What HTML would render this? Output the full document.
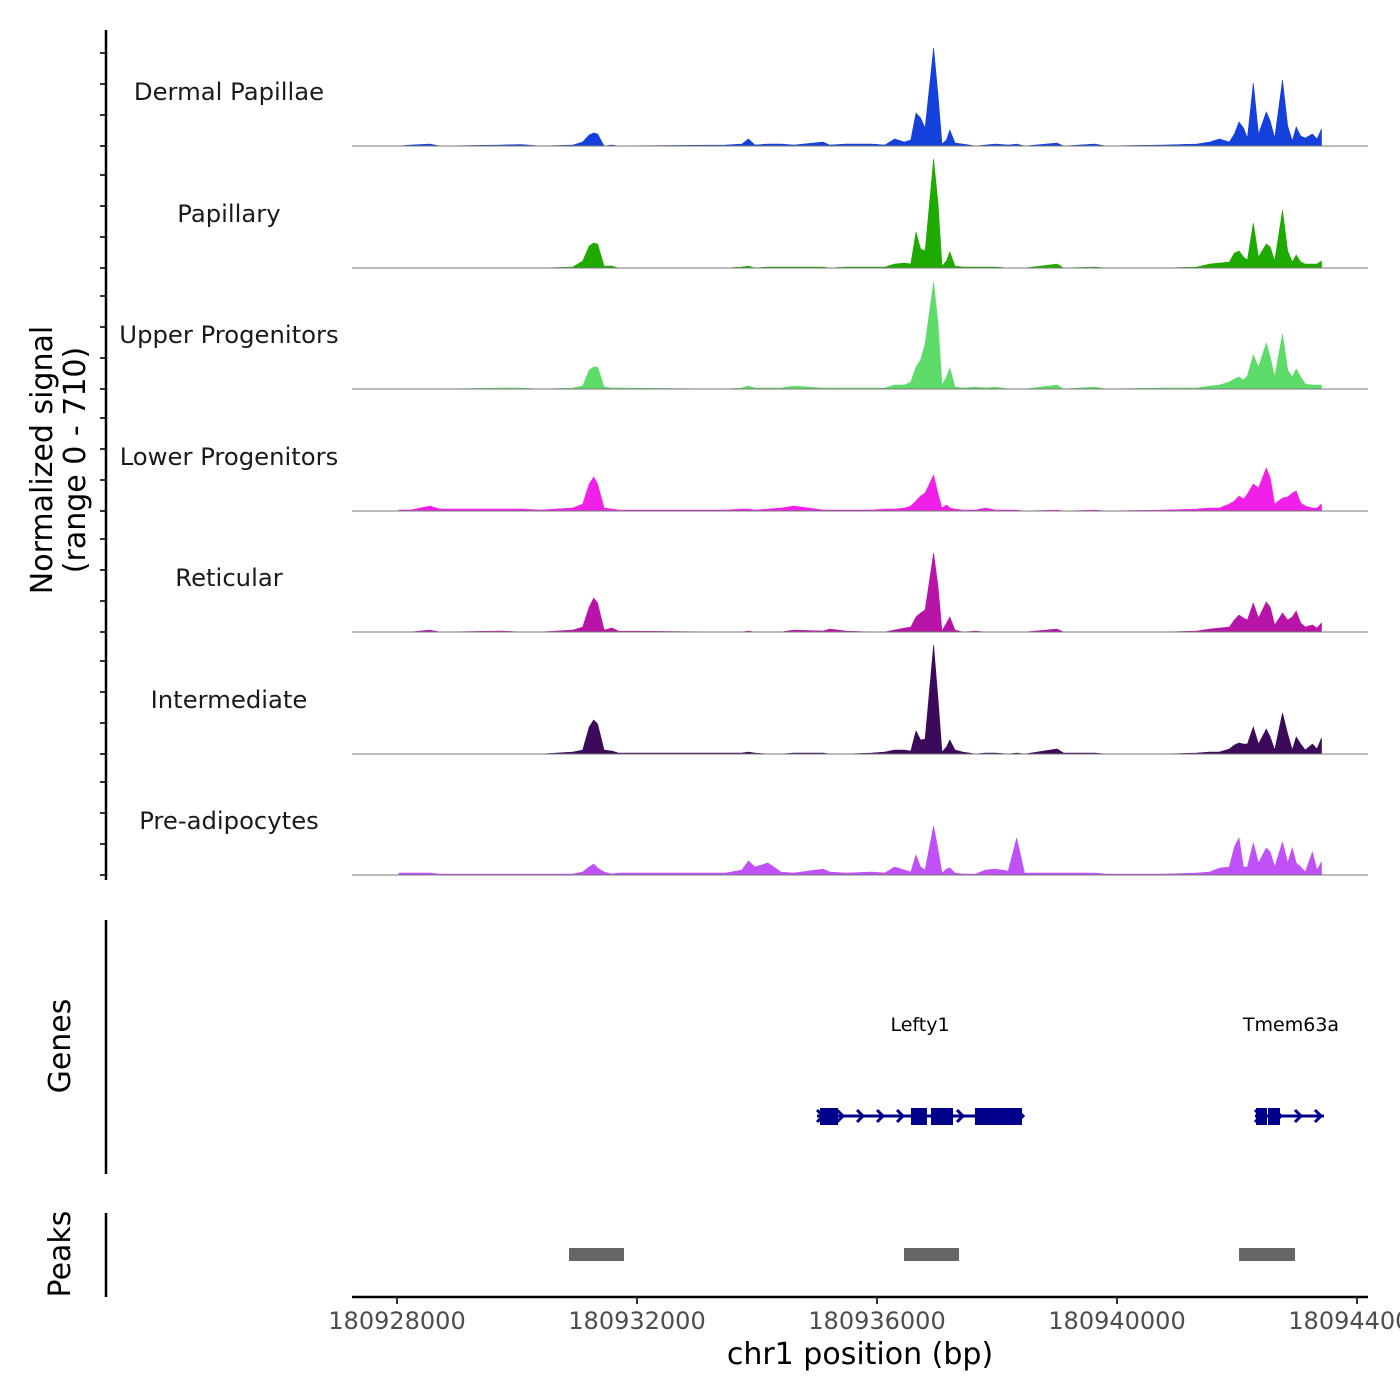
<!DOCTYPE html>
<html><head><meta charset="utf-8"><style>
html,body{margin:0;padding:0;background:#fff;}
svg{display:block;font-family:"DejaVu Sans","Liberation Sans",sans-serif;}
</style></head><body>
<svg id="chart" width="1400" height="1400" viewBox="0 0 1400 1400" xmlns="http://www.w3.org/2000/svg">
<g id="tracks"></g>
<g id="axes"></g>
</svg>
<script>
const regionStart = 180928000;
const trackNames = ["Dermal Papillae","Papillary","Upper Progenitors","Lower Progenitors","Reticular","Intermediate","Pre-adipocytes"];
const trackColors = ["#1440dc","#1faa00","#5ddc6a","#f020e8","#b814a8","#3c0a5a","#c050f8"];
const posOffsets = [30,225,550,712,1741,2066,2391,2932,3095,3203,3279,3344,3452,3582,3690,5477,5748,5856,5965,6181,6398,6614,7102,7210,7481,7914,8131,8293,8456,8564,8650,8726,8802,8943,9019,9084,9159,9214,9300,9430,9647,9809,9972,10188,10329,10459,11001,11109,11629,11813,12788,13329,13546,13708,13871,13957,14033,14109,14174,14271,14358,14488,14553,14629,14759,14845,14921,14986,15062,15138,15257,15333,15409];
const sigDermal = [0,6,12,0,6,9,0,6,24,66,78,72,0,6,0,6,12,42,6,12,12,6,24,6,12,12,6,42,24,36,198,168,108,588,300,12,36,96,18,12,0,6,12,6,12,0,18,0,12,0,6,12,24,42,24,72,144,108,48,378,72,204,150,48,396,120,30,114,60,48,72,42,102];
const sigPapillary = [0,0,0,0,0,0,0,6,42,132,150,144,12,12,0,0,6,12,0,6,6,6,6,0,6,6,6,24,30,24,216,114,102,654,384,12,42,96,12,6,6,6,6,0,0,0,24,0,6,0,0,6,24,30,36,90,102,66,48,270,66,144,126,42,348,102,36,78,36,24,24,24,42];
const sigUpper = [0,0,0,0,6,6,0,6,18,114,132,132,12,6,6,0,6,18,6,6,6,18,6,6,6,6,6,24,24,42,132,174,270,642,390,24,72,126,12,6,12,6,12,0,0,0,24,0,12,0,6,6,18,24,42,60,72,54,78,204,132,276,192,72,330,114,72,120,72,30,24,24,24];
const sigLower = [6,6,30,12,12,12,6,18,42,162,204,162,18,12,6,6,12,12,6,12,18,30,6,6,6,6,12,12,18,30,60,90,108,216,102,18,36,18,12,6,6,18,6,6,6,0,6,0,6,0,6,12,18,18,42,60,90,72,102,162,138,258,198,42,78,84,108,120,48,30,18,18,42];
const sigReticular = [0,0,12,0,6,0,0,12,30,150,204,174,12,24,6,0,0,6,0,0,0,12,6,18,6,0,0,12,24,30,90,114,132,474,270,6,54,90,12,0,6,0,0,0,0,0,18,0,0,0,0,6,18,24,30,72,102,84,72,174,84,180,150,42,114,72,90,126,54,30,42,24,54];
const sigIntermediate = [0,0,0,0,0,0,0,12,24,162,204,180,24,18,6,6,6,12,6,0,0,6,6,0,0,6,12,24,24,18,138,84,90,654,324,12,42,84,24,12,0,6,6,0,6,0,30,6,6,0,0,6,12,12,30,54,66,60,60,162,60,150,102,24,246,120,24,102,60,24,60,30,96];
const sigPre = [12,12,12,6,6,6,6,6,18,48,66,42,18,6,12,12,30,84,48,72,18,12,36,18,12,18,12,48,30,18,120,48,30,294,150,12,36,42,12,6,6,30,36,24,222,12,12,12,12,6,6,12,18,42,48,168,222,48,48,192,72,162,138,48,198,72,162,72,48,18,138,30,78];
const trackSignals = [sigDermal,sigPapillary,sigUpper,sigLower,sigReticular,sigIntermediate,sigPre];
const xTickValues = [180928000,180932000,180936000,180940000,180944000];
const xTickLabels = ["180928000","180932000","180936000","180940000","180944000"];
const signalTicks = [0,200,400,600];
const geneNames = ["Lefty1","Tmem63a"];
const geneStarts = [180935000,180942300];
const geneEnds = [180938417,180943450];
const exonGene = [0,0,0,0,1,1];
const exonStarts = [180935050,180936567,180936900,180937633,180942317,180942517];
const exonEnds = [180935350,180936833,180937267,180938417,180942500,180942717];
const peakStarts = [180930867,180936450,180942033];
const peakEnds = [180931783,180937367,180942967];

const NS="http://www.w3.org/2000/svg";
function mk(tag,attrs,parent){const e=document.createElementNS(NS,tag);for(const k in attrs)e.setAttribute(k,attrs[k]);parent.appendChild(e);return e;}
const xScale = v => 397 + (v-regionStart)*0.06;
const baselines = [146,268,389,511,632,754,875];
const ySig = v => v/6;
const yTick = v => v*31/200;
const tracks=document.getElementById('tracks');
const axes=document.getElementById('axes');

trackSignals.forEach((sig,i)=>{
  const b=baselines[i];
  const g=mk('g',{},tracks);
  
  
  let d='M'+xScale(regionStart+posOffsets[0]).toFixed(1)+','+b;
  sig.forEach((v,j)=>{d+=' L'+xScale(regionStart+posOffsets[j]).toFixed(1)+','+(b-ySig(v)).toFixed(1);});
  d+=' L'+xScale(regionStart+posOffsets[posOffsets.length-1]).toFixed(1)+','+b+' Z';
  const p=mk('path',{d:d,fill:trackColors[i],stroke:trackColors[i],'stroke-width':0.6},g);
  
  
  const bl=mk('line',{x1:352,x2:1368,y1:b,y2:b,stroke:'#777','stroke-width':1},g);
  
  
  const t=mk('text',{x:229,y:[100,222,343,465,586,708,829][i],'text-anchor':'middle','font-size':24.3,fill:'#1a1a1a'},g);
  t.textContent=trackNames[i];
  
  
  signalTicks.forEach(tv=>{
    const y=b-yTick(tv);
    const tk=mk('line',{x1:100,x2:106,y1:y,y2:y,stroke:'#333','stroke-width':2},g);
    
    
  });
});
let ya=mk('line',{x1:106,x2:106,y1:30,y2:880,stroke:'#000','stroke-width':2.5},axes);


let yt=mk('text',{transform:'translate(52,460) rotate(-90)','text-anchor':'middle','font-size':30,fill:'#000'},axes);
yt.textContent='Normalized signal';


let yt2=mk('text',{transform:'translate(85,460) rotate(-90)','text-anchor':'middle','font-size':30,fill:'#000'},axes);
yt2.textContent='(range 0 - 710)';


let ga=mk('line',{x1:106,x2:106,y1:920,y2:1174,stroke:'#000','stroke-width':2.5},axes);


let gt=mk('text',{transform:'translate(70,1046) rotate(-90)','text-anchor':'middle','font-size':30,fill:'#000'},axes);
gt.textContent='Genes';


const geneLabelX=[920,1291];
geneNames.forEach((n,i)=>{
  const x1=xScale(geneStarts[i]),x2=xScale(geneEnds[i]);
  const g=mk('g',{},axes);
  
  
  mk('line',{x1:x1,x2:x2,y1:1116,y2:1116,stroke:'#00008b','stroke-width':3},g);
  for(let x=x1+4;x<=x2;x+=20){
    mk('polyline',{points:(x-4)+',1110 '+(x+2)+',1116 '+(x-4)+',1122',fill:'none',stroke:'#00008b','stroke-width':3},g);
  }
  const t=mk('text',{x:geneLabelX[i],y:1031,'text-anchor':'middle','font-size':19,fill:'#000'},g);
  t.textContent=n;
  
  
});
exonStarts.forEach((s,i)=>{
  const r=mk('rect',{x:xScale(s),y:1108,width:xScale(exonEnds[i])-xScale(s),height:17,fill:'#00008b'},axes);
  
  
});
let pa=mk('line',{x1:106,x2:106,y1:1213,y2:1297,stroke:'#000','stroke-width':2.5},axes);


let pt=mk('text',{transform:'translate(70,1254) rotate(-90)','text-anchor':'middle','font-size':30,fill:'#000'},axes);
pt.textContent='Peaks';


peakStarts.forEach((s,i)=>{
  const r=mk('rect',{x:xScale(s),y:1248,width:xScale(peakEnds[i])-xScale(s),height:13,fill:'#666'},axes);
  
  
});
let xa=mk('line',{x1:352,x2:1368,y1:1297,y2:1297,stroke:'#000','stroke-width':2.5},axes);


xTickValues.forEach((v,i)=>{
  const x=xScale(v);
  const tk=mk('line',{x1:x,x2:x,y1:1297,y2:1304,stroke:'#333','stroke-width':2},axes);
  
  
  const t=mk('text',{x:x,y:1329,'text-anchor':'middle','font-size':24,fill:'#4d4d4d'},axes);
  t.textContent=xTickLabels[i];
  
  
});
let xt=mk('text',{x:860,y:1364,'text-anchor':'middle','font-size':30,fill:'#000'},axes);
xt.textContent='chr1 position (bp)';


</script>
</body></html>
